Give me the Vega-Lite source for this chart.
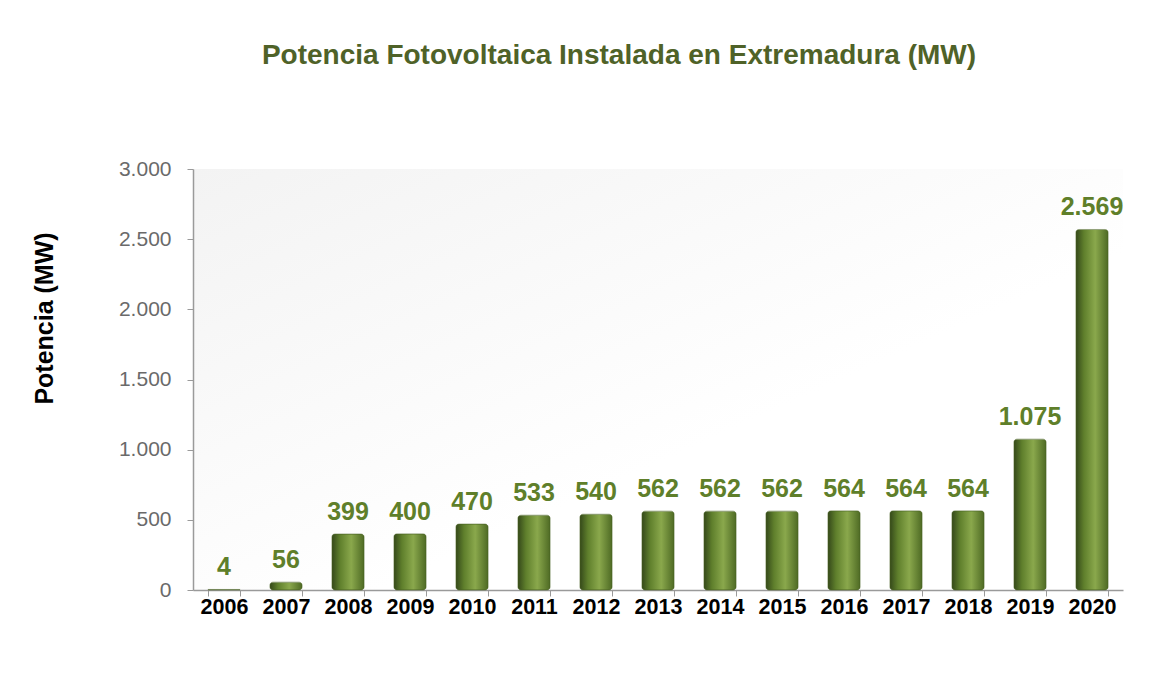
{
  "$schema": "https://vega.github.io/schema/vega-lite/v6.json",
  "autosize": "none",
  "width": 930,
  "height": 421,
  "padding": {"left": 193, "top": 169, "right": 34, "bottom": 87},
  "background": "white",
  "config": {
    "locale": {"number": {"decimal": ",", "thousands": ".", "grouping": [3], "currency": ["", " €"]}},
    "view": {
      "stroke": null,
      "fill": {
        "gradient": "linear",
        "x1": 0, "y1": 0, "x2": 0.6, "y2": 0.6,
        "stops": [
          {"offset": 0, "color": "#f3f3f3"},
          {"offset": 1, "color": "#ffffff"}
        ]
      }
    },
    "font": "Liberation Sans"
  },
  "title": {
    "text": "Potencia Fotovoltaica Instalada en Extremadura (MW)",
    "font": "Liberation Sans",
    "fontSize": 28,
    "fontWeight": "bold",
    "color": "#4f6228",
    "offset": 88,
    "dx": -39,
    "anchor": "middle"
  },
  "data": {
    "values": [
      {"year": "2006", "mw": 4},
      {"year": "2007", "mw": 56},
      {"year": "2008", "mw": 399},
      {"year": "2009", "mw": 400},
      {"year": "2010", "mw": 470},
      {"year": "2011", "mw": 533},
      {"year": "2012", "mw": 540},
      {"year": "2013", "mw": 562},
      {"year": "2014", "mw": 562},
      {"year": "2015", "mw": 562},
      {"year": "2016", "mw": 564},
      {"year": "2017", "mw": 564},
      {"year": "2018", "mw": 564},
      {"year": "2019", "mw": 1075},
      {"year": "2020", "mw": 2569}
    ]
  },
  "encoding": {
    "x": {
      "field": "year",
      "type": "ordinal",
      "scale": {"paddingInner": 0.48, "paddingOuter": 0.24},
      "axis": {
        "title": null,
        "labelAngle": 0,
        "labelFont": "Liberation Sans",
        "labelFontSize": 21.5,
        "labelFontWeight": "bold",
        "labelColor": "#000000",
        "labelPadding": 0,
        "tickBand": "extent",
        "tickSize": 6,
        "tickColor": "#9a9a9a",
        "domainColor": "#9a9a9a",
        "domainWidth": 1.5
      }
    },
    "y": {
      "field": "mw",
      "type": "quantitative",
      "scale": {"domain": [0, 3000], "nice": false},
      "axis": {
        "title": "Potencia (MW)",
        "values": [0, 500, 1000, 1500, 2000, 2500, 3000],
        "format": ",d",
        "grid": false,
        "labelFont": "Liberation Sans",
        "labelFontSize": 21,
        "labelColor": "#6a6a6a",
        "labelPadding": 16,
        "tickSize": 6,
        "tickColor": "#9a9a9a",
        "domainColor": "#9a9a9a",
        "domainWidth": 1.5,
        "titleFont": "Liberation Sans",
        "titleFontSize": 25,
        "titleFontWeight": "bold",
        "titleColor": "#000000",
        "titleAngle": -90,
        "titleX": -136,
        "titleY": 149,
        "titleBaseline": "bottom"
      }
    }
  },
  "layer": [
    {
      "mark": {
        "type": "bar",
        "cornerRadius": 3,
        "stroke": "#4a6224",
        "strokeWidth": 0.5,
        "color": {
          "gradient": "linear",
          "x1": 0, "y1": 0, "x2": 1, "y2": 0,
          "stops": [
            {"offset": 0, "color": "#34481a"},
            {"offset": 0.25, "color": "#5f7f2c"},
            {"offset": 0.6, "color": "#8aa84c"},
            {"offset": 1, "color": "#4e6a24"}
          ]
        }
      }
    },
    {
      "mark": {
        "type": "text",
        "baseline": "bottom",
        "dy": -9,
        "font": "Liberation Sans",
        "fontSize": 25,
        "fontWeight": "bold",
        "color": "#5f7f2a"
      },
      "encoding": {
        "text": {"field": "mw", "type": "quantitative", "format": ",d"}
      }
    }
  ]
}
